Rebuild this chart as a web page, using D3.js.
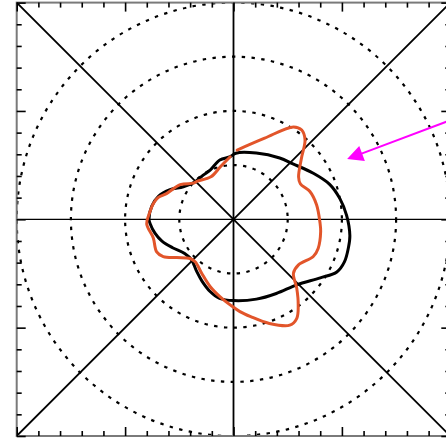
<!DOCTYPE html>
<html>
<head>
<meta charset="utf-8">
<script src="https://cdn.jsdelivr.net/npm/d3@7/dist/d3.min.js"></script>
<style>
  html, body { margin: 0; padding: 0; background: #fff; }
  svg { display: block; }
</style>
</head>
<body>
<script>
// Polar grid: dotted rings and straight spokes through the origin
const ringValues = [0.25, 0.5, 0.75, 1.0];
const spokeLines = [[[-1, 0], [1, 0]], [[0, -1], [0, 1]], [[-1, -1], [1, 1]], [[-1, 1], [1, -1]]];

// Frame ticks every 0.1, longer ones at the half units
const minorTicks = [-0.9, -0.8, -0.7, -0.6, -0.4, -0.3, -0.2, -0.1, 0.1, 0.2, 0.3, 0.4, 0.6, 0.7, 0.8, 0.9];
const majorTicks = [-1, -0.5, 0, 0.5, 1];

// Black profile: bearing (degrees clockwise from top) and normalised radius
const blackBearing = [2, 19, 37, 47, 60, 70, 79, 88, 98, 104, 111, 117, 124, 136, 150, 164, 180, 190, 198, 207, 215, 226, 235, 245, 253, 260, 267, 270, 279, 287, 295, 303, 314, 326, 335, 347, 357];
const blackRadius  = [0.305, 0.323, 0.354, 0.375, 0.425, 0.472, 0.500, 0.522, 0.542, 0.546, 0.548, 0.535, 0.483, 0.420, 0.395, 0.383, 0.375, 0.370, 0.350, 0.320, 0.295, 0.269, 0.275, 0.310, 0.345, 0.368, 0.385, 0.390, 0.382, 0.362, 0.323, 0.276, 0.248, 0.247, 0.252, 0.281, 0.289];

// Orange profile (open trace, starts just right of the top and ends just left of it)
const orangeBearing = [3, 21, 33, 37.4, 42, 48, 57, 62, 70, 80, 92, 98, 109, 115, 125, 132, 137.5, 143, 147.4, 152, 161, 170, 176, 182, 190, 199, 210.5, 222, 228, 236, 242, 247, 257, 267, 274, 281, 286, 291, 303, 312, 316, 332, 346, 357];
const orangeRadius  = [0.320, 0.401, 0.508, 0.518, 0.493, 0.422, 0.358, 0.349, 0.375, 0.389, 0.399, 0.406, 0.413, 0.406, 0.366, 0.372, 0.432, 0.496, 0.542, 0.553, 0.508, 0.456, 0.427, 0.396, 0.362, 0.329, 0.289, 0.264, 0.270, 0.316, 0.367, 0.385, 0.380, 0.401, 0.389, 0.377, 0.362, 0.331, 0.293, 0.249, 0.243, 0.222, 0.250, 0.289];

// Pointer arrow, in plot units
const arrowTail = [1.1, 0.495];
const arrowTip  = [0.524, 0.278];

const W = 446, H = 439;
const x = d3.scaleLinear().domain([-1, 1]).range([16.7, 450.3]);
const y = d3.scaleLinear().domain([-1, 1]).range([436, 2.6]);
const r = d3.scaleLinear().domain([0, 1]).range([0, (x(1) - x(-1)) / 2]);

const svg = d3.select("body").append("svg")
  .attr("width", W).attr("height", H);

svg.append("defs").append("clipPath").attr("id", "plot-clip")
  .append("rect")
  .attr("x", x(-1)).attr("y", y(1))
  .attr("width", x(1) - x(-1)).attr("height", y(-1) - y(1));

const plot = svg.append("g").attr("clip-path", "url(#plot-clip)");
const cx = x(0), cy = y(0);

// dotted rings
plot.append("g").selectAll("circle").data(ringValues).join("circle")
  .attr("cx", cx).attr("cy", cy).attr("r", d => r(d))
  .attr("fill", "none").attr("stroke", "#000")
  .attr("stroke-width", 2.2).attr("stroke-dasharray", "3.4,6.4");

// spokes
plot.append("g").selectAll("line").data(spokeLines).join("line")
  .attr("x1", d => x(d[0][0])).attr("y1", d => y(d[0][1]))
  .attr("x2", d => x(d[1][0])).attr("y2", d => y(d[1][1]))
  .attr("stroke", "#000")
  .attr("stroke-width", (d, i) => i === 0 ? 1.3 : 1.8);

// profiles
const radial = d3.lineRadial()
  .angle(d => d.a * Math.PI / 180)
  .radius(d => r(d.r));

const blackPts = blackBearing.map((a, i) => ({ a, r: blackRadius[i] }));
const orangePts = orangeBearing.map((a, i) => ({ a, r: orangeRadius[i] }));

plot.append("path")
  .attr("transform", `translate(${cx},${cy})`)
  .attr("d", radial.curve(d3.curveCatmullRomClosed.alpha(0.5))(blackPts))
  .attr("fill", "none").attr("stroke", "#000")
  .attr("stroke-width", 3).attr("stroke-linejoin", "round");

plot.append("path")
  .attr("transform", `translate(${cx},${cy})`)
  .attr("d", radial.curve(d3.curveCatmullRom.alpha(0.5))(orangePts))
  .attr("fill", "none").attr("stroke", "#e2552a")
  .attr("stroke-width", 3).attr("stroke-linejoin", "round").attr("stroke-linecap", "round");

// frame
svg.append("rect")
  .attr("x", x(-1)).attr("y", y(1))
  .attr("width", x(1) - x(-1)).attr("height", y(-1) - y(1))
  .attr("fill", "none").attr("stroke", "#7a7a7a").attr("stroke-width", 2);

// inward ticks on all four sides
function addAxis(axisFn, scale, transform, values, size) {
  const g = svg.append("g").attr("transform", transform)
    .call(axisFn(scale).tickValues(values).tickSize(-size).tickFormat(""));
  g.select(".domain").remove();
  g.selectAll(".tick line").attr("stroke", "#000").attr("stroke-width", 1.6);
}
[[minorTicks, 5], [majorTicks, 9]].forEach(([vals, size]) => {
  addAxis(d3.axisTop, x, `translate(0,${y(1)})`, vals, size);
  addAxis(d3.axisBottom, x, `translate(0,${y(-1)})`, vals, size);
  addAxis(d3.axisLeft, y, `translate(${x(-1)},0)`, vals, size);
  addAxis(d3.axisRight, y, `translate(${x(1)},0)`, vals, size);
});

// magenta pointer
const tx = x(arrowTip[0]), ty = y(arrowTip[1]);
const fx = x(arrowTail[0]), fy = y(arrowTail[1]);
const len = Math.hypot(fx - tx, fy - ty);
const ux = (fx - tx) / len, uy = (fy - ty) / len;
const headLen = 16, headHalf = 8;
const bx = tx + ux * headLen, by = ty + uy * headLen;
svg.append("line")
  .attr("x1", fx).attr("y1", fy).attr("x2", bx - ux * 2).attr("y2", by - uy * 2)
  .attr("stroke", "#ff00ff").attr("stroke-width", 2);
svg.append("polygon")
  .attr("points", [
    [tx, ty],
    [bx - uy * headHalf, by + ux * headHalf],
    [bx + uy * headHalf, by - ux * headHalf]
  ].map(p => p.join(",")).join(" "))
  .attr("fill", "#ff00ff");
</script>
</body>
</html>
